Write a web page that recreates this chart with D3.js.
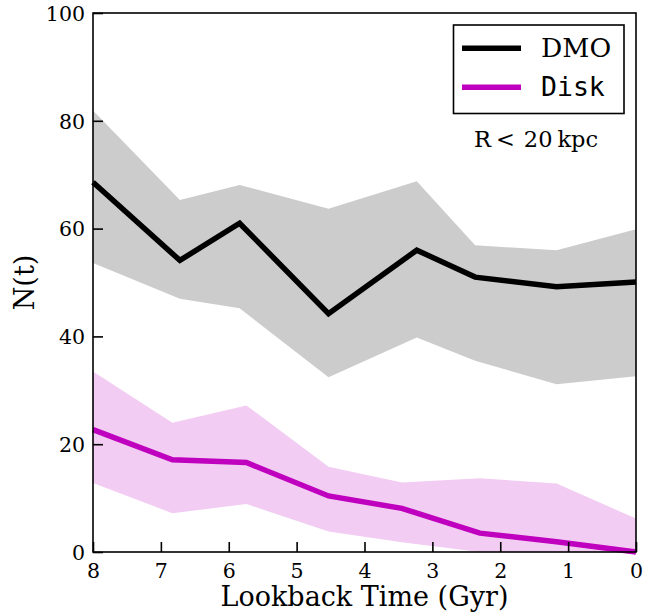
<!DOCTYPE html>
<html><head><meta charset="utf-8">
<script src="https://cdn.jsdelivr.net/npm/d3@7"></script>
<style>body{margin:0;background:#fff}svg{display:block}</style>
</head><body>
<svg id="chart" width="658" height="613"></svg>
<script>
// DMO series
const dmoTime  = [8, 6.72, 5.84, 4.53, 3.23, 2.37, 1.17, 0];
const dmoMean  = [68.6, 54.1, 61.0, 44.2, 56.0, 51.0, 49.2, 50.1];
const dmoUpper = [81.9, 65.3, 68.1, 63.7, 68.8, 56.9, 56.0, 59.9];
const dmoLower = [53.6, 47.0, 45.2, 32.4, 39.8, 35.5, 31.1, 32.6];
// Disk series
const diskTime  = [8, 6.83, 5.74, 4.53, 3.45, 2.30, 1.17, 0];
const diskMean  = [22.7, 17.1, 16.6, 10.4, 8.1, 3.5, 1.9, 0];
const diskUpper = [33.5, 24.0, 27.2, 15.8, 12.9, 13.7, 12.7, 6.2];
const diskLower = [12.8, 7.2, 8.9, 3.8, 1.8, 0, 0, 0];
// ticks
const xTicks = [8, 7, 6, 5, 4, 3, 2, 1, 0];
const yTicks = [0, 20, 40, 60, 80, 100];
const seriesNames = ["DMO", "Disk"];

const svg = d3.select("#chart");
const L = 93, R = 636, T = 13, B = 552;
const x = d3.scaleLinear().domain([8, 0]).range([L, R]);
const y = d3.scaleLinear().domain([0, 100]).range([B, T]);
const serif = "'DejaVu Serif', serif";
const mono = "'DejaVu Sans Mono', monospace";

function band(t, lo, hi, color) {
  const data = t.map((d, i) => ({t: d, lo: lo[i], hi: hi[i]}));
  svg.append("path").datum(data)
    .attr("d", d3.area().x(d => x(d.t)).y0(d => y(d.lo)).y1(d => y(d.hi)))
    .attr("fill", color);
}
function line(t, v, color) {
  const data = t.map((d, i) => ({t: d, v: v[i]}));
  svg.append("path").datum(data)
    .attr("d", d3.line().x(d => x(d.t)).y(d => y(d.v)))
    .attr("fill", "none").attr("stroke", color).attr("stroke-width", 5.5)
    .attr("stroke-linejoin", "miter");
}

band(dmoTime, dmoLower, dmoUpper, "#cccccc");
band(diskTime, diskLower, diskUpper, "#f2ccf2");
line(dmoTime, dmoMean, "#000000");
line(diskTime, diskMean, "#bf00bf");

// frame
svg.append("rect").attr("x", L).attr("y", T).attr("width", R - L).attr("height", B - T)
  .attr("fill", "none").attr("stroke", "#000").attr("stroke-width", 1.6);

// axes with inward ticks
const xAxis = svg.append("g").attr("transform", `translate(0,${B})`)
  .attr("font-family", serif)
  .call(d3.axisTop(x).tickValues(xTicks).tickSize(10).tickFormat(d3.format("d")));
xAxis.attr("font-family", serif).attr("font-size", 20.5);
xAxis.select(".domain").remove();
xAxis.selectAll("line").attr("stroke-width", 1.6);
xAxis.selectAll("text").attr("y", 25.5).attr("dy", 0)
  .style("font-family", serif).style("font-size", "20.5px").attr("fill", "#000");

const yAxis = svg.append("g").attr("transform", `translate(${L},0)`)
  .call(d3.axisRight(y).tickValues(yTicks).tickSize(10).tickFormat(d3.format("d")));
yAxis.attr("font-family", serif).attr("font-size", 20.5);
yAxis.select(".domain").remove();
yAxis.selectAll("line").attr("stroke-width", 1.6);
yAxis.selectAll("text").attr("x", -8).attr("text-anchor", "end").attr("dy", "0.36em")
  .style("font-family", serif).style("font-size", "20.5px").attr("fill", "#000");

// axis labels
svg.append("text").attr("x", (L + R) / 2).attr("y", 606).attr("text-anchor", "middle")
  .style("font-family", serif).style("font-size", "27px").text("Lookback Time (Gyr)");
svg.append("text").attr("transform", `translate(34,${(T + B) / 2}) rotate(-90)`)
  .attr("text-anchor", "middle")
  .style("font-family", serif).style("font-size", "27px").text("N(t)");

// legend
const lg = svg.append("g");
lg.append("rect").attr("x", 453.5).attr("y", 25).attr("width", 170.5).attr("height", 88.5)
  .attr("fill", "#fff").attr("stroke", "#000").attr("stroke-width", 1.6);
const legendColors = ["#000000", "#bf00bf"];
const legendFonts = [serif, mono];
seriesNames.forEach((n, i) => {
  const yy = 48.3 + i * 39;
  lg.append("line").attr("x1", 462).attr("x2", 521).attr("y1", yy).attr("y2", yy)
    .attr("stroke", legendColors[i]).attr("stroke-width", 5.5);
  lg.append("text").attr("x", 541).attr("y", yy + 8.5)
    .style("font-family", legendFonts[i]).style("font-size", "26.5px").text(n);
});
const ann = svg.append("text").attr("x", 474).attr("y", 146.7)
  .style("font-family", serif).style("font-size", "22.5px");
ann.append("tspan").text("R");
ann.append("tspan").attr("dx", 5).text("<");
ann.append("tspan").attr("dx", 9).text("20");
ann.append("tspan").attr("dx", 5).text("kpc");
</script>
</body></html>
